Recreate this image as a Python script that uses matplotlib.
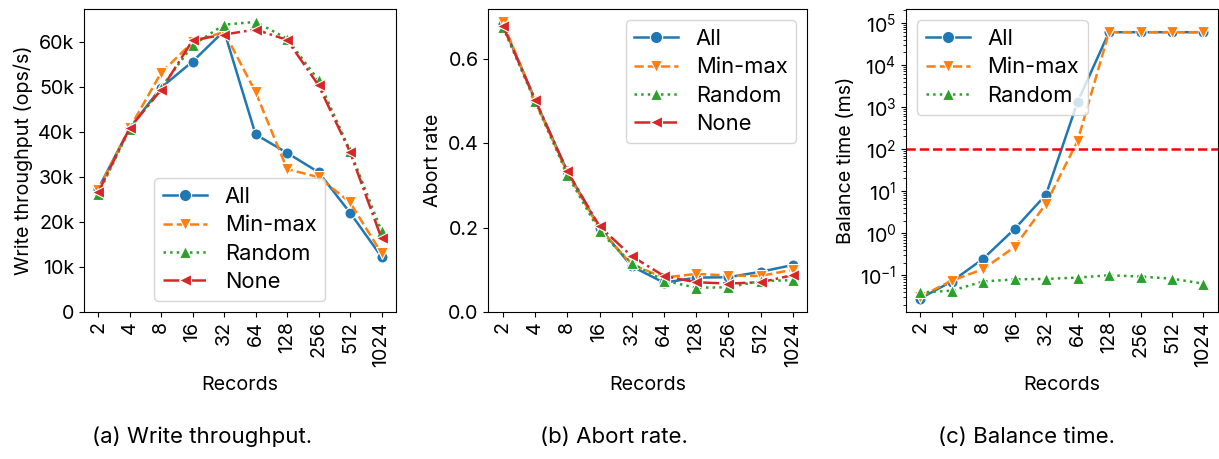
import numpy as np
import matplotlib
matplotlib.use('Agg')
import matplotlib.pyplot as plt
from matplotlib.ticker import FuncFormatter

plt.rcParams['font.family'] = ['Inter', 'DejaVu Sans']
plt.rcParams['font.size'] = 14.2

records = ['2', '4', '8', '16', '32', '64', '128', '256', '512', '1024']
series = ['All', 'Min-max', 'Random', 'None']

# write throughput (ops/s)
tput_all = [27300, 40800, 49800, 55600, 62400, 39400, 35300, 31000, 22000, 12200]
tput_minmax = [27100, 40800, 53100, 59900, 62200, 48800, 31700, 29900, 24300, 13000]
tput_random = [26100, 40600, 49800, 59200, 63800, 64400, 60700, 51400, 35800, 17900]
tput_none = [26500, 40800, 49300, 60300, 61600, 62700, 60400, 50300, 35500, 16300]

# abort rate
abort_all = [0.683, 0.504, 0.334, 0.200, 0.108, 0.069, 0.081, 0.082, 0.095, 0.111]
abort_minmax = [0.688, 0.502, 0.330, 0.198, 0.112, 0.081, 0.090, 0.086, 0.085, 0.100]
abort_random = [0.677, 0.500, 0.326, 0.191, 0.115, 0.074, 0.057, 0.058, 0.073, 0.075]
abort_none = [0.680, 0.504, 0.334, 0.203, 0.132, 0.085, 0.070, 0.067, 0.070, 0.087]

# balance time (ms)
bal_all = [0.028, 0.071, 0.246, 1.26, 8.3, 1320, 60000, 60000, 60000, 60000]
bal_minmax = [0.031, 0.074, 0.14, 0.47, 5.06, 155, 60000, 60000, 60000, 60000]
bal_random = [0.039, 0.043, 0.071, 0.080, 0.082, 0.088, 0.100, 0.093, 0.083, 0.063]
threshold = 100

colors = ['#1f77b4', '#ff7f0e', '#2ca02c', '#d62728']
markers = ['o', 'v', '^', '<']
styles = ['-', '--', ':', '-.']

fig = plt.figure(figsize=(12.19, 4.59), dpi=100)
bottom, height = 0.3209, 0.6588
ax1 = fig.add_axes([0.0689, bottom, 0.2557, height])
ax2 = fig.add_axes([0.4006, bottom, 0.2617, height])
ax3 = fig.add_axes([0.7432, bottom, 0.2557, height])

x = np.arange(len(records))


def draw(ax, data, names):
    for i, (vals, name) in enumerate(zip(data, names)):
        ax.plot(x, vals, color=colors[i], marker=markers[i], linestyle=styles[i],
                lw=1.8, markersize=8, markeredgecolor='white', markeredgewidth=0.8,
                label=name)
    ax.set_xticks(x)
    ax.set_xticklabels(records, rotation=90)
    ax.set_xlim(-0.45, 9.45)
    ax.set_xlabel('Records', labelpad=7)


leg_kw = dict(fontsize=15.8, handlelength=2.0, labelspacing=0.38, markerscale=1.1)

draw(ax1, [tput_all, tput_minmax, tput_random, tput_none], series)
ax1.set_ylim(0, 67200)
ax1.set_yticks(np.arange(0, 70000, 10000))
ax1.yaxis.set_major_formatter(FuncFormatter(lambda v, p: '0' if v == 0 else '%dk' % (v / 1000)))
ax1.set_ylabel('Write throughput (ops/s)')
ax1.legend(loc='lower center', **leg_kw)

draw(ax2, [abort_all, abort_minmax, abort_random, abort_none], series)
ax2.set_ylim(0, 0.719)
ax2.set_yticks([0.0, 0.2, 0.4, 0.6])
ax2.set_ylabel('Abort rate')
ax2.legend(loc='upper right', **leg_kw)

draw(ax3, [bal_all, bal_minmax, bal_random], series[:3])
ax3.set_yscale('log')
ax3.set_ylim(0.0136, 2.1e5)
ax3.axhline(threshold, color='red', linestyle='--', lw=1.8)
ax3.set_ylabel('Balance time (ms)')
ax3.legend(loc='upper left', **leg_kw)

fig.text(0.1657, 0.048, '(a) Write throughput.', ha='center', va='center', fontsize=16)
fig.text(0.5037, 0.048, '(b) Abort rate.', ha='center', va='center', fontsize=16)
fig.text(0.8417, 0.048, '(c) Balance time.', ha='center', va='center', fontsize=16)

fig.savefig('out.png', dpi=100)
